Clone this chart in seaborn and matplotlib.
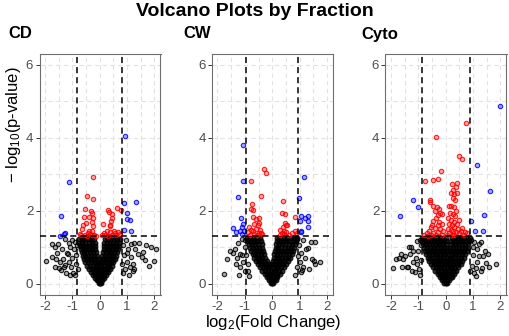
import matplotlib
matplotlib.use("Agg")
import matplotlib.pyplot as plt
import pandas as pd
import seaborn as sns
from matplotlib.colors import to_rgba

# ---------------- data ----------------
panels = ["CD", "CW", "Cyto"]
fc_thresholds = [0.82, 0.94, 0.88]
p_threshold = 1.30
x_ticks = [-2, -1, 0, 1, 2]
x_tick_labels = ["-2", "-1", "0", "1", "2"]
y_ticks = [0, 2, 4, 6]
y_tick_labels = ["0", "2", "4", "6"]

# dense non-significant core, rows of (-log10 p, [log2 FC ...])
cd_core = [
    (0.03, [-0.04, 0.0, 0.04]),
    (0.09, [-0.1, -0.05, 0.0, 0.05, 0.1]),
    (0.16, [-0.17, -0.1, -0.03, 0.04, 0.1, 0.17]),
    (0.24, [-0.24, -0.16, -0.08, 0.0, 0.08, 0.16, 0.23]),
    (0.32, [-0.31, -0.22, -0.13, -0.04, 0.05, 0.14, 0.22, 0.3]),
    (0.41, [-0.38, -0.29, -0.19, -0.09, 0.0, 0.1, 0.2, 0.29, 0.37]),
    (0.50, [-0.45, -0.35, -0.25, -0.15, -0.05, 0.05, 0.15, 0.25, 0.35, 0.44]),
    (0.59, [-0.52, -0.42, -0.32, -0.22, -0.12, -0.04, 0.04, 0.12, 0.22, 0.32, 0.42, 0.5]),
    (0.68, [-0.57, -0.47, -0.37, -0.27, -0.17, -0.08, 0.07, 0.17, 0.27, 0.37, 0.47, 0.56]),
    (0.77, [-0.62, -0.52, -0.42, -0.32, -0.22, -0.11, 0.1, 0.2, 0.3, 0.4, 0.5, 0.6]),
    (0.86, [-0.66, -0.56, -0.46, -0.36, -0.26, -0.14, 0.12, 0.23, 0.33, 0.43, 0.53, 0.64]),
    (0.95, [-0.69, -0.59, -0.49, -0.39, -0.29, -0.16, 0.14, 0.25, 0.35, 0.45, 0.56, 0.67]),
    (1.04, [-0.72, -0.61, -0.5, -0.4, -0.3, -0.18, 0.15, 0.27, 0.37, 0.48, 0.58, 0.7]),
    (1.13, [-0.74, -0.63, -0.52, -0.41, -0.3, -0.19, 0.17, 0.28, 0.39, 0.5, 0.6, 0.72]),
    (1.22, [-0.76, -0.65, -0.53, -0.42, -0.31, -0.2, 0.18, 0.3, 0.41, 0.52, 0.63, 0.74]),
    (1.28, [-0.6, -0.45, -0.3, 0.25, 0.4, 0.55]),
]
cw_core = [
    (0.03, [-0.04, 0.0, 0.04]),
    (0.10, [-0.11, -0.05, 0.01, 0.07, 0.12]),
    (0.18, [-0.19, -0.11, -0.03, 0.05, 0.13, 0.19]),
    (0.27, [-0.27, -0.18, -0.09, 0.0, 0.09, 0.18, 0.27]),
    (0.36, [-0.36, -0.26, -0.16, -0.06, 0.05, 0.15, 0.25, 0.35]),
    (0.45, [-0.44, -0.34, -0.24, -0.14, -0.08, 0.03, 0.12, 0.22, 0.32, 0.43]),
    (0.54, [-0.52, -0.42, -0.32, -0.22, -0.13, 0.0, 0.1, 0.2, 0.3, 0.4, 0.51]),
    (0.63, [-0.6, -0.5, -0.4, -0.3, -0.2, 0.04, 0.13, 0.23, 0.33, 0.44, 0.58]),
    (0.72, [-0.67, -0.57, -0.47, -0.37, -0.25, 0.06, 0.16, 0.26, 0.37, 0.48, 0.58, 0.66]),
    (0.81, [-0.72, -0.62, -0.52, -0.42, -0.3, 0.08, 0.18, 0.29, 0.4, 0.51, 0.62, 0.72]),
    (0.90, [-0.78, -0.67, -0.56, -0.45, -0.33, 0.1, 0.2, 0.31, 0.42, 0.53, 0.65, 0.77]),
    (0.99, [-0.82, -0.71, -0.6, -0.48, -0.36, 0.12, 0.22, 0.33, 0.45, 0.57, 0.69, 0.8]),
    (1.08, [-0.86, -0.75, -0.64, -0.52, -0.39, 0.14, 0.24, 0.36, 0.48, 0.6, 0.72, 0.84]),
    (1.17, [-0.9, -0.79, -0.67, -0.55, -0.42, 0.16, 0.27, 0.39, 0.51, 0.63, 0.75, 0.88]),
    (1.25, [-0.93, -0.81, -0.69, -0.57, -0.44, 0.18, 0.3, 0.42, 0.55, 0.68, 0.8, 0.92]),
]
cyto_core = [
    (0.03, [-0.05, 0.0, 0.05]),
    (0.10, [-0.13, -0.06, 0.0, 0.06, 0.13]),
    (0.18, [-0.22, -0.14, -0.06, 0.02, 0.1, 0.18, 0.23]),
    (0.27, [-0.3, -0.21, -0.12, -0.03, 0.06, 0.15, 0.24, 0.31]),
    (0.36, [-0.38, -0.28, -0.18, -0.08, 0.02, 0.12, 0.22, 0.31, 0.39]),
    (0.45, [-0.46, -0.36, -0.26, -0.16, -0.06, 0.04, 0.14, 0.24, 0.34, 0.45]),
    (0.54, [-0.54, -0.44, -0.34, -0.24, -0.14, -0.04, 0.06, 0.16, 0.26, 0.36, 0.46, 0.54]),
    (0.63, [-0.6, -0.5, -0.4, -0.3, -0.2, -0.1, 0.0, 0.1, 0.2, 0.3, 0.4, 0.5, 0.6]),
    (0.72, [-0.66, -0.56, -0.46, -0.36, -0.26, -0.16, -0.06, 0.04, 0.14, 0.24, 0.34, 0.44, 0.54, 0.65]),
    (0.81, [-0.71, -0.61, -0.51, -0.41, -0.31, -0.21, -0.11, -0.01, 0.09, 0.19, 0.29, 0.39, 0.5, 0.6, 0.7]),
    (0.90, [-0.76, -0.66, -0.55, -0.45, -0.35, -0.25, -0.15, -0.05, 0.05, 0.15, 0.25, 0.35, 0.45, 0.55, 0.65, 0.76]),
    (0.99, [-0.8, -0.7, -0.59, -0.48, -0.38, -0.28, -0.18, -0.08, 0.03, 0.17, 0.27, 0.37, 0.47, 0.58, 0.69, 0.8]),
    (1.08, [-0.83, -0.72, -0.61, -0.5, -0.4, -0.3, -0.2, -0.1, 0.01, 0.19, 0.29, 0.39, 0.5, 0.61, 0.72, 0.83]),
    (1.17, [-0.86, -0.75, -0.64, -0.53, -0.42, -0.32, -0.22, -0.11, 0.0, 0.21, 0.31, 0.42, 0.53, 0.64, 0.75, 0.86]),
    (1.25, [-0.88, -0.77, -0.66, -0.55, -0.44, -0.33, -0.22, -0.11, 0.0, 0.22, 0.33, 0.44, 0.55, 0.66, 0.77, 0.88]),
]

# scattered non-significant points (log2 FC, -log10 p)
cd_black = [
    (-1.98, 0.62), (-1.76, 0.73), (-1.75, 1.10), (-1.64, 1.02), (-1.52, 1.10), (-1.58, 0.68),
    (-1.45, 0.59), (-1.63, 0.47), (-1.49, 0.43), (-1.40, 0.38), (-1.32, 0.45), (-1.27, 0.52),
    (-1.33, 0.68), (-1.38, 0.96), (-1.26, 1.23), (-1.14, 1.11), (-1.09, 1.00), (-1.15, 0.82),
    (-1.08, 0.23), (-1.03, 1.19), (-1.20, 0.85), (-1.12, 0.60), (-1.05, 0.45), (-0.98, 0.30),
    (-1.00, 0.70), (-0.95, 0.95), (-0.92, 1.15), (-0.88, 0.55), (-0.85, 0.80), (-0.90, 0.25),
    (-0.82, 1.05), (-0.80, 0.40), (-1.22, 0.30), (-1.55, 0.85),
    (1.15, 1.10), (1.27, 1.11), (1.45, 1.11), (1.70, 1.07), (1.88, 1.00), (1.57, 0.87),
    (1.39, 0.82), (2.00, 0.62), (1.64, 0.64), (1.21, 0.55), (1.27, 0.41), (1.15, 0.73),
    (2.05, 0.96), (1.79, 0.50), (1.53, 0.73), (1.22, 0.36), (1.05, 0.95), (1.00, 0.60),
    (0.95, 1.20), (0.92, 0.40), (0.88, 0.80), (1.08, 0.25), (0.85, 1.05), (0.82, 0.55),
    (0.98, 0.85), (1.30, 0.95), (1.10, 0.45), (0.86, 0.30),
]
cw_black = [
    (-1.77, 0.27), (-1.65, 0.68), (-1.53, 0.91), (-1.37, 0.96), (-1.25, 1.11), (-1.34, 0.55),
    (-1.19, 0.47), (-1.16, 0.82), (-1.10, 0.78), (-1.01, 0.36), (-1.05, 0.60), (-1.00, 1.00),
    (-0.98, 1.20), (-0.95, 0.80), (-1.12, 1.22), (-0.90, 0.55), (-0.88, 0.35), (-1.30, 0.70),
    (-0.85, 0.20), (-1.45, 0.85), (-1.20, 0.25),
    (1.56, 1.14), (1.41, 1.14), (1.14, 1.19), (1.29, 0.99), (1.25, 0.95), (1.46, 0.68),
    (1.53, 0.62), (1.73, 0.59), (1.55, 0.55), (1.14, 0.45), (1.10, 0.38), (1.05, 0.32),
    (1.00, 0.60), (0.98, 1.05), (1.05, 0.85), (0.95, 0.75), (0.90, 0.45), (1.20, 0.70),
    (0.92, 1.22), (1.35, 0.40), (0.85, 0.25),
]
cyto_black = [
    (-1.94, 0.42), (-1.82, 0.68), (-1.65, 0.82), (-1.55, 0.68), (-1.50, 0.75), (-1.61, 0.47),
    (-1.43, 0.47), (-1.31, 0.82), (-1.33, 1.00), (-1.26, 1.00), (-1.25, 0.36), (-1.13, 0.32),
    (-1.05, 1.16), (-0.95, 1.20), (-1.10, 0.70), (-1.05, 0.55), (-1.00, 0.90), (-0.98, 0.40),
    (-0.92, 0.65), (-0.90, 1.05), (-1.20, 0.60), (-1.70, 0.72), (-1.38, 0.45), (-1.18, 0.90),
    (-0.95, 0.25),
    (1.82, 0.53), (1.54, 0.82), (1.58, 0.47), (1.46, 0.56), (1.34, 0.44), (1.16, 0.59),
    (1.12, 0.44), (1.28, 0.36), (1.13, 0.96), (1.04, 1.14), (1.22, 1.08), (1.36, 0.75),
    (1.00, 0.80), (0.95, 0.50), (1.05, 0.30), (0.98, 1.00), (0.92, 1.20), (1.20, 0.75),
    (1.10, 0.20), (0.90, 0.35), (1.45, 0.90), (1.30, 1.15),
]

# significant, small fold change (red)
cd_red = [
    (-0.24, 2.92), (-0.45, 2.41), (-0.24, 2.33), (-0.52, 2.06), (-0.33, 1.99), (-0.27, 1.95),
    (-0.56, 1.83), (-0.40, 1.84), (-0.24, 1.81), (-0.51, 1.66), (-0.27, 1.69), (-0.60, 1.62),
    (-0.23, 1.58), (-0.63, 1.51), (-0.39, 1.46), (-0.27, 1.44), (0.30, 2.03), (0.35, 1.97),
    (0.62, 2.08), (0.76, 2.01), (0.44, 1.92), (0.45, 1.81), (0.42, 1.73), (0.11, 1.64),
    (0.36, 1.62), (0.38, 1.58), (0.25, 1.46), (0.36, 1.41), (0.52, 1.46), (0.67, 1.43),
    (-0.73, 1.37), (-0.67, 1.34), (0.74, 1.37), (-0.55, 1.34), (-0.45, 1.32), (-0.35, 1.37),
    (-0.30, 1.33), (-0.20, 1.34), (-0.15, 1.32), (-0.42, 1.38), (0.10, 1.33), (0.20, 1.35),
    (0.30, 1.32), (0.45, 1.34), (0.60, 1.33), (0.55, 1.38), (0.15, 1.40),
]
cw_red = [
    (-0.30, 3.15), (-0.24, 3.04), (-0.77, 2.81), (-0.42, 2.42), (-0.75, 2.19), (-0.77, 2.05),
    (-0.69, 2.03), (-0.72, 1.84), (-0.60, 1.78), (-0.50, 1.81), (-0.66, 1.64), (-0.52, 1.60),
    (-0.48, 1.66), (-0.85, 1.55), (-0.78, 1.48), (-0.88, 1.42), (-0.70, 1.45), (-0.60, 1.50),
    (-0.42, 1.40), (-0.55, 1.35), (-0.48, 1.38), (-0.38, 1.37), (-0.65, 1.36), (-0.80, 1.33),
    (-0.45, 1.48),
    (0.39, 2.26), (0.36, 1.95), (0.48, 1.92), (0.84, 1.82), (0.46, 1.66), (0.51, 1.60),
    (0.38, 1.55), (0.28, 1.48), (0.42, 1.46), (0.50, 1.41), (0.35, 1.38), (0.28, 1.35),
    (0.62, 1.35), (0.72, 1.38), (0.84, 1.46), (0.90, 1.40), (0.55, 1.62), (0.44, 1.36),
]
cyto_red = [
    (0.74, 4.42), (-0.36, 4.02), (0.47, 3.49), (0.59, 3.42), (-0.18, 3.08), (-0.29, 2.88),
    (-0.46, 2.84), (-0.74, 2.83), (0.23, 2.74), (0.42, 2.77), (0.25, 2.58), (0.37, 2.65),
    (0.20, 2.50), (0.30, 2.45), (0.40, 2.50), (-0.57, 2.30), (-0.59, 2.24), (-0.45, 2.12),
    (-0.33, 2.10), (-0.23, 2.05), (-0.38, 2.00), (0.13, 2.14), (0.20, 2.14), (0.30, 2.10),
    (0.38, 2.00), (0.15, 1.95), (0.25, 1.90), (0.35, 1.85), (0.10, 1.80), (0.20, 1.75),
    (0.30, 1.70), (0.40, 1.65), (0.12, 1.65), (0.22, 1.60), (0.32, 1.55), (0.08, 1.50),
    (0.18, 1.48), (0.28, 1.45), (0.38, 1.42), (0.12, 1.38), (0.22, 1.35), (0.32, 1.33),
    (0.05, 1.33), (0.45, 1.50), (0.50, 1.38), (0.55, 1.45),
    (-0.20, 1.95), (-0.15, 1.90), (-0.28, 1.88), (-0.35, 1.80), (-0.45, 1.72), (-0.50, 1.62),
    (-0.55, 1.55), (-0.25, 1.70), (-0.15, 1.65), (-0.30, 1.60), (-0.40, 1.52), (-0.60, 1.45),
    (-0.70, 1.40), (-0.20, 1.50), (-0.10, 1.45), (-0.30, 1.42), (-0.45, 1.38), (-0.55, 1.35),
    (-0.35, 1.34), (-0.15, 1.35), (-0.80, 1.33), (-0.65, 1.32),
    (0.70, 1.42), (0.78, 1.38), (0.65, 1.35), (0.60, 1.52), (0.50, 1.75), (0.35, 2.30),
    (0.28, 2.35),
]

# significant, large fold change (blue)
cd_blue = [
    (0.91, 4.06), (-1.12, 2.78), (1.33, 2.24), (0.87, 2.21), (-1.43, 1.85), (1.00, 1.93),
    (0.98, 1.78), (1.10, 1.75), (1.13, 1.46), (0.88, 1.48), (-1.27, 1.38), (-1.31, 1.36),
    (-1.44, 1.30),
]
cw_blue = [
    (-1.07, 3.80), (-1.07, 2.83), (-1.25, 2.37), (1.16, 2.92), (0.99, 2.36), (-1.14, 1.80),
    (-1.45, 1.52), (-1.32, 1.43), (-1.08, 1.64), (-1.12, 1.55), (-1.04, 1.46), (-1.10, 1.37),
    (-1.16, 1.46), (1.05, 1.87), (1.20, 1.81), (1.30, 1.87), (1.32, 1.72), (1.29, 1.56),
    (1.01, 1.72), (1.06, 1.46), (1.04, 1.43),
]
cyto_blue = [
    (1.99, 4.88), (1.14, 3.27), (1.60, 2.54), (-1.20, 2.30), (-1.01, 2.10), (-1.68, 1.86),
    (1.40, 1.88), (0.94, 1.73), (1.06, 1.44), (1.35, 1.45),
]

# ---------------- build tables ----------------
def panel_frame(core, black, red, blue):
    recs = []
    for y, xs in core:
        for x in xs:
            recs.append((x, y, "core"))
    recs += [(x, y, "ns") for x, y in black]
    recs += [(x, y, "sig") for x, y in red]
    recs += [(x, y, "sigfc") for x, y in blue]
    return pd.DataFrame(recs, columns=["log2fc", "nlp", "group"])

frames = [
    panel_frame(cd_core, cd_black, cd_red, cd_blue),
    panel_frame(cw_core, cw_black, cw_red, cw_blue),
    panel_frame(cyto_core, cyto_black, cyto_red, cyto_blue),
]
group_colors = {"ns": "#000000", "core": "#000000", "sig": "#FF0000", "sigfc": "#0000FF"}
face_alpha = {"ns": 0.35, "core": 0.8, "sig": 0.35, "sigfc": 0.35}
size = {"ns": 10, "core": 12, "sig": 10, "sigfc": 10}

# ---------------- plot ----------------
sns.set_theme(style="white")
plt.rcParams["font.family"] = ["Liberation Sans", "DejaVu Sans"]
plt.rcParams["text.color"] = "black"
plt.rcParams["mathtext.fontset"] = "custom"
plt.rcParams["mathtext.rm"] = "Liberation Sans"
plt.rcParams["mathtext.it"] = "Liberation Sans:italic"
plt.rcParams["mathtext.bf"] = "Liberation Sans:bold"

W, H = 510, 336
fig = plt.figure(figsize=(W / 100, H / 100), dpi=100)
fig.patch.set_facecolor("white")

lefts = [39.5, 212.0, 385.5]
label_x = [8, 183, 361]
ax_w, ax_top, ax_bot = 121.0, 54.0, 294.7

for i, name in enumerate(panels):
    ax = fig.add_axes([lefts[i] / W, 1 - ax_bot / H, ax_w / W, (ax_bot - ax_top) / H])
    df = frames[i]
    for g in ["ns", "core", "sig", "sigfc"]:
        sub = df[df.group == g]
        c = group_colors[g]
        sns.scatterplot(data=sub, x="log2fc", y="nlp", color=c, s=size[g], linewidth=0.8,
                        ax=ax, legend=False, zorder=3)
        coll = ax.collections[-1]
        coll.set_facecolor(to_rgba(c, face_alpha[g]))
        coll.set_edgecolor(to_rgba(c, 0.85))

    t = fc_thresholds[i]
    for xv in (-t, t):
        ax.axvline(xv, color="black", lw=1.1, ls=(0, (4, 2.6)), zorder=5)
    ax.axhline(p_threshold, color="black", lw=1.1, ls=(0, (4, 2.6)), zorder=5)

    ax.set_xlim(-2.2, 2.22)
    ax.set_ylim(-0.3, 6.3)
    ax.set_xticks(x_ticks)
    ax.set_xticklabels(x_tick_labels)
    ax.set_yticks(y_ticks)
    ax.set_yticklabels(y_tick_labels)
    ax.set_xticks([-1.5, -0.5, 0.5, 1.5], minor=True)
    ax.set_yticks([1, 3, 5], minor=True)
    ax.tick_params(axis="both", which="major", length=3, width=0.7, color="#333333",
                   labelsize=9.5, labelcolor="#4D4D4D", pad=1.5, direction="out",
                   bottom=True, left=True)
    ax.tick_params(axis="both", which="minor", length=0)
    ax.grid(which="both", color="#E2E2E2", lw=0.8, ls=(0, (4, 3)))
    ax.set_axisbelow(True)
    ax.set_xlabel("")
    ax.set_ylabel("")
    for sp in ax.spines.values():
        sp.set_color("#6E6E6E")
        sp.set_linewidth(0.8)

    fig.text(label_x[i] / W, 1 - 34 / H, name, fontsize=12, fontweight="bold",
             ha="left", va="center", color="black")

fig.text(255 / W, 1 - 12 / H, "Volcano Plots by Fraction", fontsize=14,
         fontweight="bold", ha="center", va="center", color="black")
fig.text(273 / W, 1 - 322 / H, r"log$_{2}$(Fold Change)", fontsize=12,
         ha="center", va="center", color="black")
fig.text(14 / W, 1 - 125 / H, "\u2212 log$_{10}$(p-value)", fontsize=12,
         rotation=90, ha="center", va="center", color="black")

fig.savefig("out.png", dpi=100, facecolor="white")
